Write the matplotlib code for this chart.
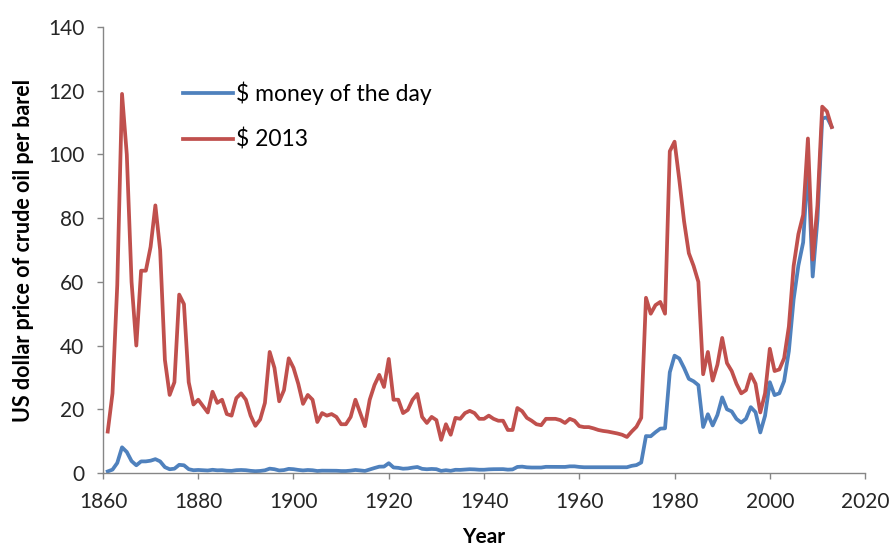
import matplotlib.pyplot as plt

years = list(range(1861, 2014))

# $ money of the day
nominal = [0.49, 1.05, 3.15, 8.06, 6.59, 3.74, 2.41, 3.63, 3.64, 3.86,
           4.34, 3.64, 1.83, 1.17, 1.35, 2.56, 2.42, 1.19, 0.86, 0.95,
           0.86, 0.78, 1.00, 0.84, 0.88, 0.71, 0.67, 0.88, 0.94, 0.87,
           0.67, 0.56, 0.64, 0.84, 1.36, 1.18, 0.79, 0.91, 1.29, 1.19,
           0.96, 0.80, 0.94, 0.86, 0.62, 0.73, 0.72, 0.72, 0.70, 0.61,
           0.61, 0.74, 0.95, 0.81, 0.64, 1.10, 1.56, 1.98, 2.01, 3.07,
           1.73, 1.61, 1.34, 1.43, 1.68, 1.88, 1.30, 1.17, 1.27, 1.19,
           0.65, 0.87, 0.67, 1.00, 0.97, 1.09, 1.18, 1.13, 1.02, 1.02,
           1.14, 1.19, 1.20, 1.21, 1.05, 1.12, 1.90, 1.99, 1.78, 1.71,
           1.71, 1.71, 1.93, 1.93, 1.93, 1.93, 1.90, 2.08, 2.08, 1.90,
           1.80, 1.80, 1.80, 1.80, 1.80, 1.80, 1.80, 1.80, 1.80, 1.80,
           2.24, 2.48, 3.29, 11.58, 11.53, 12.80, 13.92, 14.02, 31.61, 36.83,
           35.93, 32.97, 29.55, 28.78, 27.56, 14.43, 18.44, 14.92, 18.23, 23.73,
           20.00, 19.32, 16.97, 15.82, 17.02, 20.67, 19.09, 12.72, 17.97, 28.50,
           24.44, 25.02, 28.83, 38.27, 54.52, 65.14, 72.39, 97.26, 61.67, 79.50,
           111.26, 111.67, 108.66]

# $ 2013
real2013 = [13.0, 25.0, 59.0, 119.0, 100.0, 60.0, 40.0, 63.5, 63.5, 71.0,
            84.0, 70.0, 35.5, 24.5, 28.5, 56.0, 53.0, 28.5, 21.5, 23.0,
            21.0, 19.0, 25.5, 22.0, 23.0, 18.5, 18.0, 23.5, 25.0, 23.0,
            18.0, 14.8, 16.8, 22.0, 38.0, 33.0, 22.5, 26.0, 36.0, 33.0,
            28.0, 21.7, 24.5, 23.0, 16.0, 18.8, 18.0, 18.5, 17.6, 15.3,
            15.3, 17.6, 23.0, 18.8, 14.7, 23.0, 27.6, 30.8, 27.0, 35.8,
            23.0, 23.0, 18.8, 19.8, 23.0, 24.8, 17.6, 15.7, 17.6, 16.6,
            10.4, 15.3, 12.0, 17.3, 17.0, 18.8, 19.5, 18.8, 17.0, 17.0,
            18.0, 17.0, 16.4, 16.4, 13.5, 13.5, 20.4, 19.4, 17.3, 16.4,
            15.3, 15.0, 17.0, 17.0, 17.0, 16.6, 15.7, 17.0, 16.4, 14.7,
            14.4, 14.4, 14.0, 13.5, 13.2, 13.0, 12.7, 12.4, 12.0, 11.3,
            13.0, 14.5, 17.3, 55.0, 50.0, 52.7, 53.7, 50.0, 101.0, 104.0,
            92.0, 79.0, 69.0, 65.0, 60.0, 31.0, 38.0, 29.0, 34.0, 42.4,
            34.5, 32.0, 28.0, 25.0, 26.0, 31.0, 28.0, 19.0, 25.0, 39.0,
            32.0, 32.5, 36.0, 46.0, 65.0, 75.0, 81.0, 105.0, 67.0, 84.0,
            115.0, 113.5, 108.6]

plt.rcParams['font.family'] = ['Lato', 'DejaVu Sans']

fig = plt.figure(figsize=(8.9, 5.48), dpi=100)
ax = fig.add_axes([0.1157, 0.1369, 0.8563, 0.8138])

ax.plot(years, nominal, color='#4F81BD', lw=2.7, label='$ money of the day', solid_joinstyle='round')
ax.plot(years, real2013, color='#C0504D', lw=2.7, label='$ 2013', solid_joinstyle='round')

ax.set_xlim(1860, 2020)
ax.set_ylim(0, 140)
ax.set_xticks(range(1860, 2021, 20))
ax.set_yticks(range(0, 141, 20))

for s in ['top', 'right']:
    ax.spines[s].set_visible(False)
for s in ['left', 'bottom']:
    ax.spines[s].set_color('#868686')
    ax.spines[s].set_linewidth(1.0)
ax.tick_params(colors='#868686', labelcolor='#262626', labelsize=15, length=4.5, width=1)
ax.tick_params(axis='x', pad=9)
ax.tick_params(axis='y', pad=9)

ax.set_xlabel('Year', fontsize=15, fontweight='bold')
ax.set_ylabel('US dollar price of crude oil per barel', fontsize=15.5, fontweight='bold')
ax.xaxis.set_label_coords(0.5, -0.122)
ax.yaxis.set_label_coords(-0.091, 0.5)

ax.legend(loc='upper left', bbox_to_anchor=(0.105, 0.877), frameon=False, fontsize=16.5,
          handlelength=2.18, handletextpad=0.12, labelspacing=1.03, borderpad=0,
          borderaxespad=0)

fig.savefig('out.png', dpi=100)
